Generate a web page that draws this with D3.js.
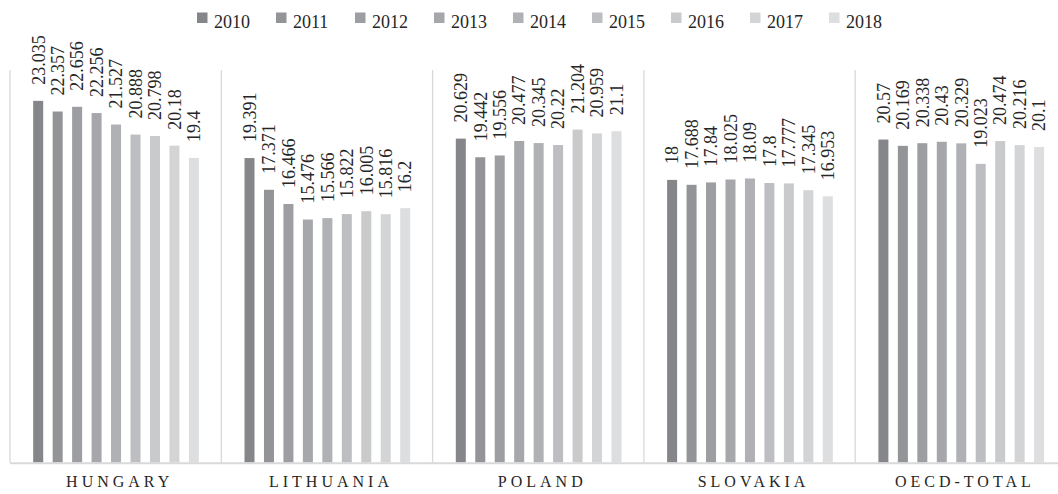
<!DOCTYPE html>
<html>
<head>
<meta charset="utf-8">
<script src="https://cdn.jsdelivr.net/npm/d3@7"></script>
<style>
  html, body { margin: 0; padding: 0; background: #fff; }
  svg { display: block; }
  text { font-family: "Liberation Serif", "Times New Roman", serif; fill: #262626; }
</style>
</head>
<body>
<svg id="chart" width="1058" height="494"></svg>
<script>
const categories = ["HUNGARY", "LITHUANIA", "POLAND", "SLOVAKIA", "OECD-TOTAL"];
const years = ["2010", "2011", "2012", "2013", "2014", "2015", "2016", "2017", "2018"];
const hungary    = [23.035, 22.357, 22.656, 22.256, 21.527, 20.888, 20.798, 20.18, 19.4];
const lithuania  = [19.391, 17.371, 16.466, 15.476, 15.566, 15.822, 16.005, 15.816, 16.2];
const poland     = [20.629, 19.442, 19.556, 20.477, 20.345, 20.22, 21.204, 20.959, 21.1];
const slovakia   = [18, 17.688, 17.84, 18.025, 18.09, 17.8, 17.777, 17.345, 16.953];
const oecdTotal  = [20.57, 20.169, 20.338, 20.43, 20.329, 19.023, 20.474, 20.216, 20.1];
const labelsText = [
  ["23.035","22.357","22.656","22.256","21.527","20.888","20.798","20.18","19.4"],
  ["19.391","17.371","16.466","15.476","15.566","15.822","16.005","15.816","16.2"],
  ["20.629","19.442","19.556","20.477","20.345","20.22","21.204","20.959","21.1"],
  ["18","17.688","17.84","18.025","18.09","17.8","17.777","17.345","16.953"],
  ["20.57","20.169","20.338","20.43","20.329","19.023","20.474","20.216","20.1"]
];
const colors = ["#85868a","#939497","#9d9ea1","#a6a7aa","#b0b1b4","#bdbec1","#c9cacc","#d3d4d6","#dddee0"];

const seriesByCat = [hungary, lithuania, poland, slovakia, oecdTotal];

const svg = d3.select("#chart");

const bandW = 211.3;
const x0 = d3.scaleBand().domain(categories).range([10, 10 + bandW * categories.length]).paddingInner(0).paddingOuter(0);
const x1 = d3.scaleBand().domain(years).range([23.2, bandW - 22.4]).paddingInner(0.486).paddingOuter(0);
const y = d3.scaleLinear().domain([0, 25]).range([462.5, 70]);

// separators (category ticks)
const sepX = d3.range(categories.length + 1).map(i => 10 + i * bandW);
svg.append("g").selectAll("line").data(sepX).join("line")
  .attr("x1", d => d).attr("x2", d => d)
  .attr("y1", y(25)).attr("y2", y(0))
  .attr("stroke", "#d9d9d9").attr("stroke-width", 1.3);

// bars
const groups = svg.append("g").selectAll("g").data(categories).join("g")
  .attr("transform", d => `translate(${x0(d)},0)`);

groups.each(function(cat, ci) {
  const g = d3.select(this);
  const vals = seriesByCat[ci];
  g.selectAll("rect").data(vals).join("rect")
    .attr("x", (v, i) => x1(years[i]))
    .attr("width", x1.bandwidth())
    .attr("y", v => y(v))
    .attr("height", v => y(0) - y(v))
    .attr("fill", (v, i) => colors[i]);
  g.selectAll("text.val").data(vals).join("text")
    .attr("class", "val")
    .attr("transform", (v, i) => {
      const cx = x1(years[i]) + x1.bandwidth() / 2 + 6.3;
      const ty = y(v) - 16;
      return `translate(${cx},${ty}) rotate(-90)`;
    })
    .attr("text-anchor", "start")
    .attr("font-size", "18px")
    .text((v, i) => labelsText[ci][i]);
});

// bottom axis line
svg.append("line")
  .attr("x1", 10).attr("x2", 1058)
  .attr("y1", y(0) + 0.8).attr("y2", y(0) + 0.8)
  .attr("stroke", "#d9d9d9").attr("stroke-width", 2);

// category labels
svg.append("g").selectAll("text").data(categories).join("text")
  .attr("x", d => x0(d) + bandW / 2 + 4)
  .attr("y", 487)
  .attr("text-anchor", "middle")
  .attr("font-size", "16px")
  .attr("letter-spacing", "4px")
  .text(d => d);

// legend
const legendStart = 197;
const legendStep = 79;
const leg = svg.append("g").selectAll("g").data(years).join("g")
  .attr("transform", (d, i) => `translate(${legendStart + i * legendStep},0)`);
leg.append("rect").attr("x", 0).attr("y", 12.5).attr("width", 10.5).attr("height", 10.5)
  .attr("fill", (d, i) => colors[i]);
leg.append("text").attr("x", 17).attr("y", 27.5).attr("font-size", "18px").text(d => d);
</script>
</body>
</html>
